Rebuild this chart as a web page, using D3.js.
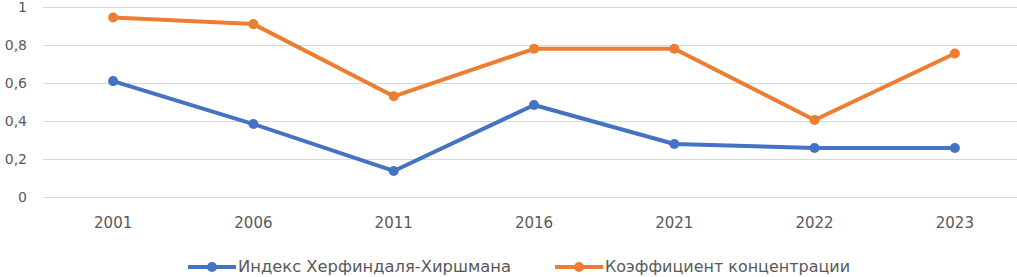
<!DOCTYPE html>
<head>
  <meta charset="utf-8">
  <style>
    body { margin: 0; background: #fff; }
    .grid line { stroke: #d9d9d9; stroke-width: 1; }
    .grid path { display: none; }
    text { font-family: "DejaVu Sans", sans-serif; fill: #595959; }
  </style>
</head>
<body>
  <div id="chart"></div>
  <script src="https://d3js.org/d3.v7.min.js"></script>
  <script>
    const years = ['2001', '2006', '2011', '2016', '2021', '2022', '2023'];
    const hhi = [0.61, 0.384, 0.137, 0.484, 0.279, 0.258, 0.258];
    const conc = [0.945, 0.91, 0.53, 0.78, 0.78, 0.405, 0.755];
    const yTicks = [0, 0.2, 0.4, 0.6, 0.8, 1];
    const names = ['Индекс Херфиндаля-Хиршмана', 'Коэффициент концентрации'];
    const colors = ['#4472c4', '#ed7d31'];

    const W = 1017, H = 277;
    const margin = { top: 7, right: -8, bottom: 80, left: 43 };
    const width = W - margin.left - margin.right;
    const height = H - margin.top - margin.bottom;

    const svg = d3.select('#chart').append('svg')
      .attr('width', W).attr('height', H);
    const g = svg.append('g')
      .attr('transform', `translate(${margin.left},${margin.top})`);

    const x = d3.scalePoint().domain(years).range([0, width]).padding(0.5);
    const y = d3.scaleLinear().domain([0, 1]).range([height, 0]);

    // gridlines
    g.append('g').attr('class', 'grid')
      .call(d3.axisLeft(y).tickValues(yTicks).tickSize(-width).tickFormat(''));

    // y labels
    g.selectAll('.ylab').data(yTicks).enter().append('text')
      .attr('x', -16).attr('y', d => y(d)).attr('dy', '0.35em')
      .attr('text-anchor', 'end').style('font-size', '14px')
      .text(d => String(d).replace('.', ','));

    // x labels
    g.selectAll('.xlab').data(years).enter().append('text')
      .attr('x', d => x(d)).attr('y', height + 31)
      .attr('text-anchor', 'middle').style('font-size', '15px')
      .text(d => d);

    const line = d3.line().x((d, i) => x(years[i])).y(d => y(d));

    [hhi, conc].forEach((s, k) => {
      g.append('path').datum(s)
        .attr('fill', 'none').attr('stroke', colors[k])
        .attr('stroke-width', 4).attr('stroke-linejoin', 'round')
        .attr('d', line);
      g.selectAll('.pt' + k).data(s).enter().append('circle')
        .attr('cx', (d, i) => x(years[i])).attr('cy', d => y(d))
        .attr('r', 5).attr('fill', colors[k]);
    });

    // legend
    const legX = [188, 555];
    const legW = [273, 245];
    names.forEach((n, k) => {
      const lg = svg.append('g').attr('transform', `translate(${legX[k]},267)`);
      lg.append('line').attr('x1', 0).attr('x2', 48)
        .attr('stroke', colors[k]).attr('stroke-width', 4);
      lg.append('circle').attr('cx', 24).attr('r', 5).attr('fill', colors[k]);
      lg.append('text').attr('x', 50).attr('dy', '0.35em')
        .attr('textLength', legW[k]).attr('lengthAdjust', 'spacingAndGlyphs')
        .style('font-size', '15px').text(n);
    });
  </script>
</body>
</html>
